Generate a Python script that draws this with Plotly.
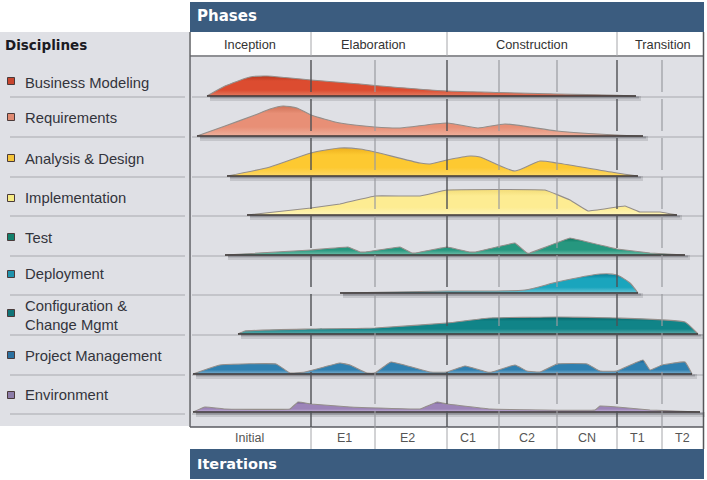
import plotly.graph_objects as go

disciplines = ["Business Modeling", "Requirements", "Analysis &amp; Design", "Implementation", "Test",
               "Deployment", "Configuration &amp;<br>Change Mgmt", "Project Management", "Environment"]
phases = ["Inception", "Elaboration", "Construction", "Transition"]
phase_centers = [250, 373, 532, 663]
phase_edges = [190, 311, 447, 617, 703]
iterations = ["Initial", "E1", "E2", "C1", "C2", "CN", "T1", "T2"]
iter_centers = [249, 344, 407, 468, 527, 587, 637, 682]
iter_edges = [190, 311, 375, 447, 499, 557, 617, 662, 703]

baselines = [96, 136, 176, 215, 255, 293, 334, 374, 412]
row_rules = [97, 137, 177, 216, 256, 295, 335, 375, 414]
label_y = [83, 118, 159, 198, 238, 274, 315, 356, 395]

bm_x = [207, 225, 250, 267, 285, 311, 360, 375, 447, 499, 557, 617, 636]
bm_h = [0, 10, 19, 20, 18.5, 16, 12, 10.5, 5, 3.5, 2, 0.7, 0]
req_x = [197, 225, 255, 270, 283, 297, 311, 340, 375, 400, 447, 478, 505, 557, 617, 643]
req_h = [0, 10, 21, 27, 30, 28, 21, 13, 9, 8, 13, 8, 12, 5, 1, 0]
ad_x = [227, 270, 311, 340, 360, 375, 420, 430, 447, 470, 480, 515, 540, 557, 617, 638]
ad_h = [0, 9, 23, 28, 27, 24, 13, 12, 16, 20, 19, 5, 15, 13, 3, 0]
imp_x = [247, 311, 340, 375, 420, 447, 545, 570, 588, 625, 640, 660, 677]
imp_h = [0, 7, 11, 19, 19, 25, 25, 15, 4, 9, 3, 3, 0]
test_x = [225, 311, 348, 360, 365, 400, 412, 415, 447, 470, 475, 515, 527, 530, 570, 617, 650, 685]
test_h = [0, 5, 8, 3, 3, 8, 2, 2, 8, 3, 3, 12, 2, 2, 17, 6, 2, 0]
dep_x = [340, 447, 525, 557, 600, 617, 630, 638]
dep_h = [0, 2, 3, 11, 19, 18, 10, 0]
cfg_x = [238, 245, 311, 375, 447, 490, 557, 617, 685, 698]
cfg_h = [0, 3, 5, 6, 11, 16, 17, 16, 12, 0]
pm_x = [193, 220, 276, 290, 305, 340, 350, 367, 375, 391, 430, 447, 465, 487, 492, 515, 527, 540,
        557, 587, 600, 617, 643, 650, 662, 685, 692]
pm_h = [0, 9, 10, 1, 2, 11, 9, 1, 1, 12, 2, 2, 8, 2, 2, 9, 3, 2, 10, 10, 3, 3, 14, 4, 9, 12, 0]
env_x = [193, 205, 225, 290, 298, 311, 350, 420, 430, 437, 447, 490, 595, 600, 617, 650, 700]
env_h = [0, 5, 3, 3, 10, 8, 5, 3, 7, 10, 8, 3, 2, 6, 5, 2, 0]

hump_x = [bm_x, req_x, ad_x, imp_x, test_x, dep_x, cfg_x, pm_x, env_x]
hump_h = [bm_h, req_h, ad_h, imp_h, test_h, dep_h, cfg_h, pm_h, env_h]
smoothing = [0.5, 0.6, 0.6, 0.2, 0.1, 0.6, 0.35, 0.3, 0.2]

fill_dark = ["#b83a20", "#cf7358", "#eeb01e", "#f3dc78", "#0e7560", "#0a7f98", "#056265", "#1b5f8e", "#6f5a90"]
fill_mid = ["#dc4c30", "#e88f76", "#fdc931", "#fdec92", "#26977f", "#1aa5bd", "#108488", "#2f80b0", "#9c84b8"]
fill_top = ["#e27a60", "#eeb09c", "#fdd867", "#fdf4b8", "#6fbfa9", "#6cc5d6", "#5fabab", "#7fb1d0", "#c5b5d8"]
swatch = ["#c8452e", "#e08a72", "#f5c53a", "#f7ec84", "#12806c", "#1f93ad", "#0f7478", "#2a70a0", "#8c7ca8"]

NAVY = "#3b5c7f"
PANEL = "#dfe0e5"

fig = go.Figure()
shapes = []
def rect(x0, y0, x1, y1, color):
    shapes.append(dict(type="rect", xref="x", yref="y", x0=x0, x1=x1, y0=y0, y1=y1,
                       fillcolor=color, line_width=0, layer="below"))
def rule(x0, y0, x1, y1, color, width=1, dash="solid", layer="below"):
    shapes.append(dict(type="line", xref="x", yref="y", x0=x0, x1=x1, y0=y0, y1=y1,
                       line=dict(color=color, width=width, dash=dash), layer=layer))

rect(190, 2, 704, 32, NAVY)
rect(190, 449, 704, 479, NAVY)
rect(0, 32, 189, 426, PANEL)
rect(190, 57, 703, 427, PANEL)
rect(190, 32, 704, 56, "white")
rect(190, 427, 704, 449, "white")
for y in row_rules:
    rule(10, y, 185, y, "#a8a9ae")
    rule(192, y, 703, y, "#a8a9ae")
rule(190, 56, 703, 56, "#6a6b70", 1.5)
rule(190, 427, 703, 427, "#5a5b60", 1.5)
rule(190, 32, 190, 427, "#5f6065", 1.5)
rule(703.5, 32, 703.5, 449, "#55565a", 1.5)
for x in phase_edges[1:-1]:
    rule(x, 32, x, 56, "#a5a6aa", 1)
for x in iter_edges[1:-1]:
    rule(x, 427, x, 449, "#a5a6aa", 1)

for i in range(9):
    xs, hs, b = hump_x[i], hump_h[i], baselines[i]
    tops = [b - h for h in hs]
    base = [b] * len(xs)
    fig.add_trace(go.Scatter(x=[xs[0] + 3, xs[-1] + 5], y=[b + 2.5, b + 2.5], mode="lines",
                             line=dict(color="rgba(60,60,70,0.16)", width=5), hoverinfo="skip"))
    fig.add_trace(go.Scatter(x=[xs[0] + 3, xs[-1] + 3], y=[b + 1.5, b + 1.5], mode="lines",
                             line=dict(color="rgba(60,60,70,0.25)", width=2), hoverinfo="skip"))
    fig.add_trace(go.Scatter(x=xs, y=base, mode="lines", line=dict(color="rgba(0,0,0,0)", width=0),
                             hoverinfo="skip"))
    fig.add_trace(go.Scatter(
        x=xs, y=tops, mode="lines", fill="tonexty",
        fillgradient=dict(type="vertical", colorscale=[[0, fill_top[i]], [0.3, fill_mid[i]],
                                                       [0.75, fill_mid[i]], [1, fill_dark[i]]]),
        line=dict(color="#948e8a", width=1.1, shape="spline", smoothing=smoothing[i]),
        hoverinfo="skip"))
    fig.add_trace(go.Scatter(x=xs, y=base, mode="lines", line=dict(color="#3a3535", width=1.4),
                             hoverinfo="skip"))

for x in iter_edges[1:-1]:
    major = x in phase_edges
    rule(x, 60, x, 427, "#4f5054" if major else "#9a9ba0", 1.4 if major else 1.2, "32px,7px", "above")

fig.add_trace(go.Scatter(x=[11] * 9, y=[81, 117, 158, 198, 237, 274, 313, 355, 395], mode="markers",
                         marker=dict(symbol="square", size=7, color=swatch,
                                     line=dict(color="#4a3a3a", width=1)), hoverinfo="skip"))

ann = []
def text(x, y, s, size, color, anchor="center", family="Liberation Sans"):
    ann.append(dict(x=x, y=y, xref="x", yref="y", text=s, showarrow=False, xanchor=anchor, yanchor="middle",
                    font=dict(size=size, color=color, family=family), align="left"))

text(195, 16, "<b>Phases</b>", 15, "white", "left", "DejaVu Sans")
text(195, 464, "<b>Iterations</b>", 14.5, "white", "left", "DejaVu Sans")
text(3, 45, "<b>Disciplines</b>", 13.5, "#1a1a22", "left", "DejaVu Sans")
for name, y in zip(disciplines, label_y):
    text(23, y, name, 14.8, "#33343c", "left")
for p, c in zip(phases, phase_centers):
    text(c, 44.5, p, 12.8, "#333")
for p, c in zip(iterations, iter_centers):
    text(c, 438, p, 12.5, "#555")

fig.update_layout(
    width=707, height=480, margin=dict(l=0, r=0, t=0, b=0), showlegend=False,
    paper_bgcolor="white", plot_bgcolor="white", shapes=shapes, annotations=ann,
    xaxis=dict(range=[0, 707], visible=False, fixedrange=True),
    yaxis=dict(range=[480, 0], visible=False, fixedrange=True),
)
fig.write_html("out.html", config={"displayModeBar": False},
               post_script="document.body.style.margin='0';document.documentElement.style.overflow='hidden';")
